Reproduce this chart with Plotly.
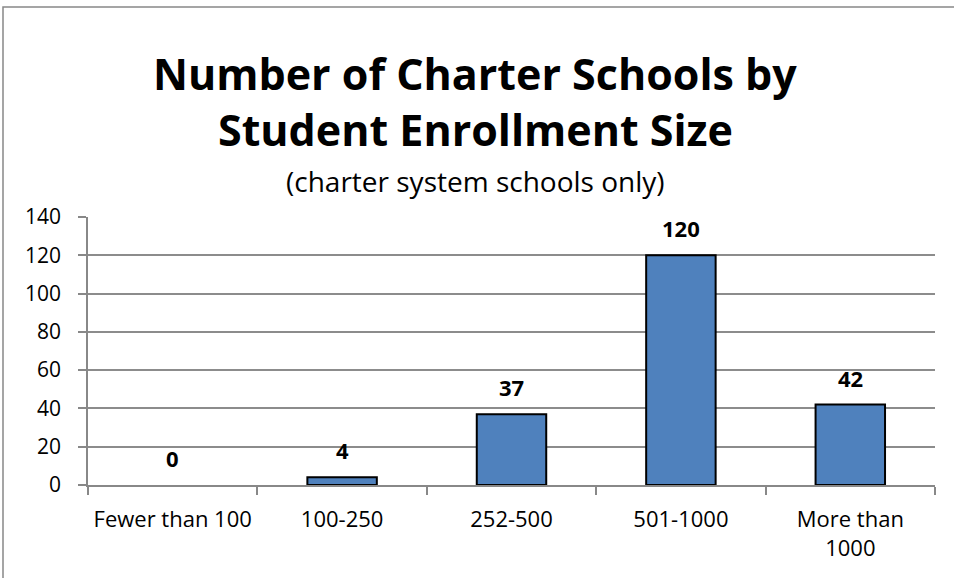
import plotly.graph_objects as go

categories = ["Fewer than 100", "100-250", "252-500", "501-1000", "More than<br>1000"]
values = [0, 4, 37, 120, 42]
y_ticks = [0, 20, 40, 60, 80, 100, 120, 140]

FONT = "'Open Sans', sans-serif"

fig = go.Figure()
fig.add_trace(go.Bar(
    x=categories, y=values,
    marker=dict(color="#4F81BD",
                line=dict(color="#000000", width=[0 if v == 0 else 2 for v in values])),
    width=0.41, hoverinfo="skip",
))

annotations = []
for c, v in zip(categories, values):
    annotations.append(dict(x=c, y=v, xref="x", yref="y", text=f"<b>{v}</b>",
                            showarrow=False, yanchor="bottom", yshift=10,
                            font=dict(family=FONT, size=22, color="#000000")))

L, R, T, B = 88, 19, 217, 93
W, H = 954, 578
ph = H - T - B
pw = W - L - R

def py(ypix):
    return (H - B - ypix) / ph

def px(xpix):
    return (xpix - L) / pw

title_lines = [("<b>Number of Charter Schools by</b>", 73, 43),
               ("<b>Student Enrollment Size</b>", 129, 43),
               ("(charter system schools only)", 181, 28)]
for txt, ypos, size in title_lines:
    annotations.append(dict(x=px(W / 2 - 2), y=py(ypos), xref="paper", yref="paper", text=txt,
                            showarrow=False, yanchor="middle",
                            font=dict(family=FONT, size=size, color="#000000")))

fig.update_layout(
    width=W, height=H,
    margin=dict(l=L, r=R, t=T, b=B, pad=0, autoexpand=False),
    paper_bgcolor="white", plot_bgcolor="white",
    showlegend=False,
    bargap=0.59,
    font=dict(family=FONT, size=21, color="#000000"),
    annotations=annotations,
    shapes=[dict(type="rect", xref="paper", yref="paper",
                 x0=px(3), x1=px(W + 5), y0=py(H + 5), y1=py(7),
                 line=dict(color="#888888", width=1.5), fillcolor="rgba(0,0,0,0)", layer="below")],
)
fig.update_xaxes(showline=True, linecolor="#888888", linewidth=1.5,
                 ticks="outside", ticklen=8, tickcolor="#888888", tickwidth=1.5,
                 tickson="boundaries", showgrid=False, ticklabelstandoff=14,
                 tickangle=0, automargin=False,
                 tickfont=dict(family=FONT, size=22, color="#000000"))
fig.update_yaxes(range=[0, 140], tickvals=y_ticks, showline=True, linecolor="#888888", linewidth=1.5,
                 ticks="outside", ticklen=8, tickcolor="#888888", tickwidth=1.5,
                 showgrid=True, gridcolor="#8c8c8c", gridwidth=1.5, zeroline=False,
                 ticklabelstandoff=13, automargin=False,
                 tickfont=dict(family=FONT, size=21, color="#000000"))

fig.write_html("out.html", config={"displayModeBar": False},
               post_script="document.body.style.margin='0';")
